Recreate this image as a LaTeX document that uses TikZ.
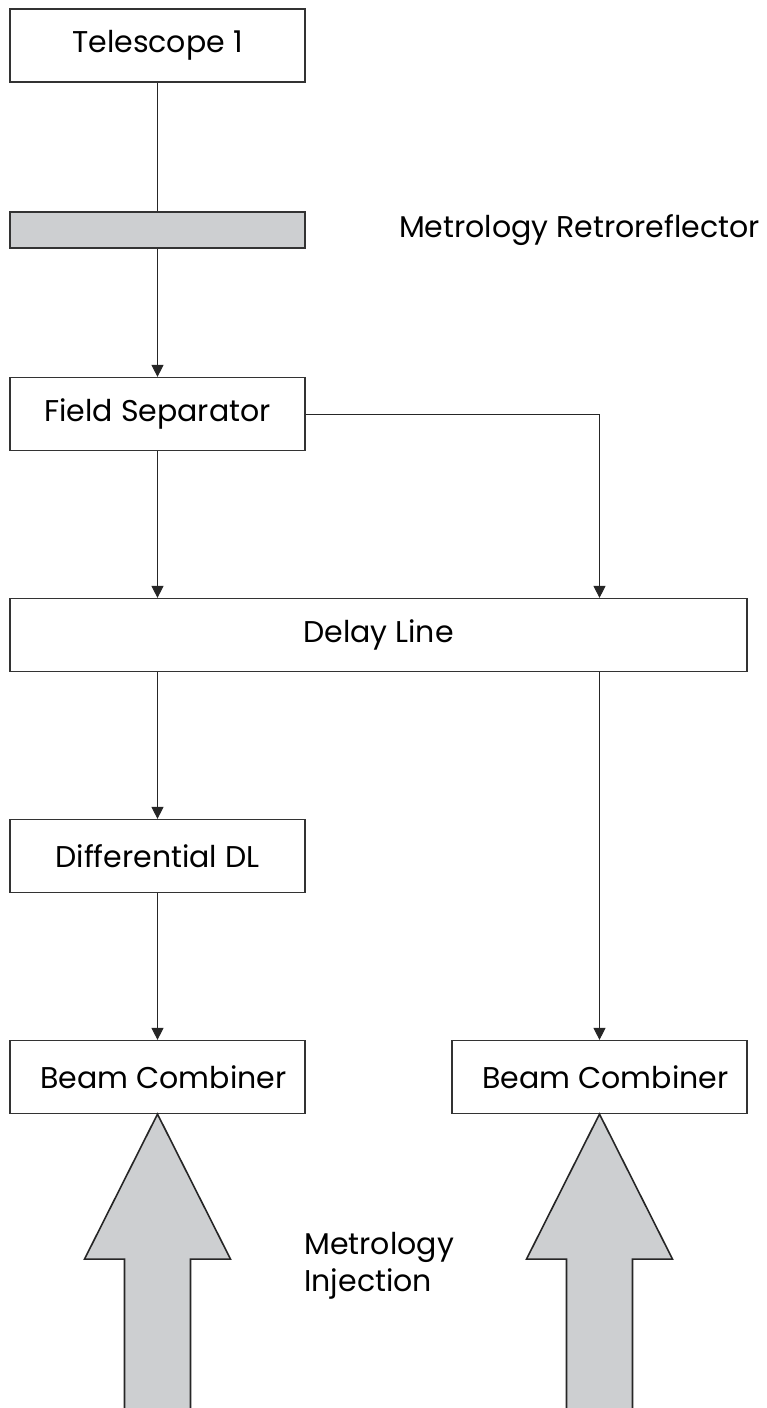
\documentclass[tikz,border=0pt]{standalone}
\usepackage{fontspec}
\setmainfont{Poppins}
\usetikzlibrary{positioning,calc,arrows.meta}
\definecolor{barfill}{RGB}{205,207,209}
\tikzstyle{block}=[rectangle,draw=black!80,line width=0.6pt,minimum width=147.5pt,minimum height=36.5pt,inner sep=0pt,font=\fontsize{15}{18}\selectfont]
\tikzstyle{bar}=[rectangle,draw=black!80,fill=barfill,line width=0.6pt,minimum width=147.5pt,minimum height=18pt,inner sep=0pt]
\tikzstyle{sidetext}=[inner sep=0pt,anchor=west,align=left,font=\fontsize{15}{18.5}\selectfont]
\tikzstyle{edge} = [draw,line width=0.5pt,black!85,-{Triangle[length=6pt,width=6pt]}]
\tikzstyle{undirectededge} = [draw,line width=0.5pt,black!85]
\tikzstyle{bigarrow} = [draw=black!85,fill=barfill,line width=0.8pt,line join=miter]

\begin{document}
\begin{tikzpicture}[x=0.5pt,y=-0.5pt]
    \useasboundingbox (0,0) rectangle (766,1408);
    % First we draw the boxes of the left branch
    \foreach \pos/\name/\txt in {{(157.5,45.5)/tel/Telescope 1}, {(157.5,414)/fieldsep/Field Separator},
                                 {(157.5,856)/diffdl/Differential DL}, {(157.5,1077)/bcL/\hspace{6pt}Beam Combiner}}
        \node[block] (\name) at \pos {\txt};
    \node[bar] (retro) at (157.5,230) {};
    \node[block,minimum width=368.5pt] (delay) at (378.5,635) {Delay Line};
    \node[block] (bcR) at (599.5,1077) {\hspace{6pt}Beam Combiner};

    % labels beside the chain
    \node[sidetext,right=46.5pt of retro] (retrotext) {Metrology Retroreflector};
    \node[sidetext] (injtext) at (304,1266) {Metrology\\Injection};

    % beam path
    \path[undirectededge] (tel) -- (retro);
    \foreach \source/\dest in {retro/fieldsep, diffdl/bcL}
        \path[edge] (\source) -- (\dest);
    \path[edge] (fieldsep) -- (fieldsep |- delay.north);
    \path[edge] (fieldsep.east) -| (bcR |- delay.north);
    \path[edge] (delay.south -| diffdl) -- (diffdl);
    \path[edge] (delay.south -| bcR) -- (bcR);

    % metrology injection arrows
    \foreach \bc in {bcL,bcR}
        \draw[bigarrow] (\bc.south) -- ++(-73,145) -- ++(40,0) -- ++(0,160) -- ++(66,0) -- ++(0,-160) -- ++(40,0) -- cycle;
\end{tikzpicture}
\end{document}
